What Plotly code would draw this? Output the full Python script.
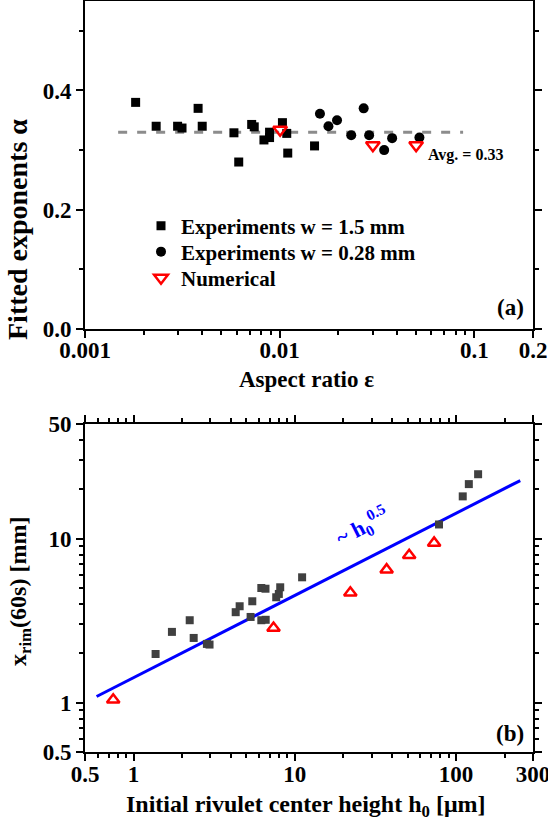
import plotly.graph_objects as go
import numpy as np

# ---------------- Panel (a) data ----------------
sq_eps = [0.00182, 0.00232, 0.00299, 0.00315, 0.00381, 0.0040, 0.00582, 0.00616,
          0.00718, 0.00740, 0.0083, 0.00887, 0.00887, 0.01033, 0.01087, 0.0110, 0.0151]
sq_alpha = [0.380, 0.340, 0.340, 0.337, 0.370, 0.340, 0.329, 0.280,
            0.343, 0.339, 0.317, 0.330, 0.321, 0.346, 0.328, 0.295, 0.307]

ci_eps = [0.0161, 0.0178, 0.0197, 0.0233, 0.0270, 0.0288, 0.0344, 0.0378, 0.0522]
ci_alpha = [0.361, 0.340, 0.350, 0.325, 0.370, 0.325, 0.300, 0.320, 0.321]

num_eps = [0.01005, 0.0301, 0.0502]
num_alpha = [0.334, 0.308, 0.308]

avg_eps = [0.00148, 0.0875]
avg_alpha = [0.33, 0.33]

# ---------------- Panel (b) data ----------------
exp_h0 = [1.37, 1.73, 2.23, 2.36, 2.85, 2.96, 4.30, 4.55, 5.32, 5.45, 6.20, 6.58,
          6.20, 6.60, 7.67, 7.96, 8.12, 11.1, 78.4, 110, 120, 137]
exp_x = [1.98, 2.70, 3.18, 2.48, 2.28, 2.26, 3.56, 3.87, 3.33, 4.15, 5.00, 4.95,
         3.18, 3.20, 4.39, 4.60, 5.05, 5.81, 12.2, 18.1, 21.5, 24.7]

sim_h0 = [0.748, 7.38, 22.1, 37.1, 51.2, 73.1]
sim_x = [1.04, 2.85, 4.67, 6.47, 7.91, 9.42]

fit_h0 = [0.59, 250]
fit_x = [1.09, 22.6]

FONT = "Liberation Serif"
W, H = 548, 834
xdom = [85 / W, 533 / W]
ydom_a = [1 - 329 / H, 1 - 1 / H]
ydom_b = [1 - 752 / H, 1 - 424 / H]

fig = go.Figure()

fig.add_trace(go.Scatter(x=avg_eps, y=avg_alpha, mode="lines",
                         line=dict(color="#8c8c8c", width=3, dash="9px,10px"),
                         showlegend=False, xaxis="x", yaxis="y"))
fig.add_trace(go.Scatter(x=sq_eps, y=sq_alpha, mode="markers", name="Experiments w = 1.5 mm",
                         marker=dict(symbol="square", size=9, color="black"),
                         xaxis="x", yaxis="y", legend="legend"))
fig.add_trace(go.Scatter(x=ci_eps, y=ci_alpha, mode="markers", name="Experiments w = 0.28 mm",
                         marker=dict(symbol="circle", size=10, color="black"),
                         xaxis="x", yaxis="y", legend="legend2"))
fig.add_trace(go.Scatter(x=num_eps, y=num_alpha, mode="markers", name="Numerical",
                         marker=dict(symbol="triangle-down-open", size=12, color="red",
                                     line=dict(width=2.5, color="red")),
                         xaxis="x", yaxis="y", legend="legend3"))

fig.add_trace(go.Scatter(x=fit_h0, y=fit_x, mode="lines",
                         line=dict(color="#0000ff", width=3), showlegend=False,
                         xaxis="x2", yaxis="y2"))
fig.add_trace(go.Scatter(x=exp_h0, y=exp_x, mode="markers", showlegend=False,
                         marker=dict(symbol="square", size=8, color="#404040"),
                         xaxis="x2", yaxis="y2"))
fig.add_trace(go.Scatter(x=sim_h0, y=sim_x, mode="markers", showlegend=False,
                         marker=dict(symbol="triangle-up-open", size=11, color="red",
                                     line=dict(width=2.5, color="red")),
                         xaxis="x2", yaxis="y2"))

tickfont = dict(family=FONT, size=23, color="black", weight="bold")
axis_common = dict(showline=True, linecolor="black", linewidth=2, mirror="ticks",
                   ticks="outside", tickwidth=2, ticklen=7, tickcolor="black",
                   showgrid=False, zeroline=False, tickfont=tickfont, automargin=False,
                   ticklabeloverflow="allow")

def minor_log(vals):
    return dict(ticks="outside", ticklen=4, tickwidth=1.5, tickcolor="black",
                tickvals=vals, showgrid=False)

minor_a = [k * 10.0 ** e for e in (-3, -2) for k in range(2, 10)]
minor_bx = [0.6, 0.7, 0.8, 0.9] + [k * 10.0 ** e for e in (0, 1) for k in range(2, 10)] + [200]
minor_by = [0.6, 0.7, 0.8, 0.9] + list(range(2, 10)) + [20, 30, 40]

def leg(py):
    return dict(x=141 / W, y=1 - py / H, xanchor="left", yanchor="middle",
                bgcolor="rgba(0,0,0,0)", itemwidth=30,
                font=dict(family=FONT, size=21, color="black", weight="bold"))

fig.update_layout(
    template="none",
    width=W, height=H, margin=dict(l=0, r=0, t=0, b=0, autoexpand=False),
    paper_bgcolor="white", plot_bgcolor="white",
    xaxis=dict(type="log", domain=xdom, range=[-3, np.log10(0.2)], anchor="y",
               tickvals=[0.001, 0.01, 0.1, 0.2], ticktext=["0.001", "0.01", "0.1", "0.2"],
               ticklabelstandoff=-8, minor=minor_log(minor_a), **axis_common),
    yaxis=dict(domain=ydom_a, range=[0, 0.55], anchor="x",
               tickvals=[0.0, 0.2, 0.4], ticktext=["0.0", "0.2", "0.4"],
               minor=dict(ticks="outside", ticklen=4, tickwidth=1.5, tickcolor="black",
                          tickvals=[0.1, 0.3, 0.5]), **axis_common),
    xaxis2=dict(type="log", domain=xdom, range=[np.log10(0.5), np.log10(300)], anchor="y2",
                tickvals=[0.5, 1, 10, 100, 300], ticktext=["0.5", "1", "10", "100", "300"],
                ticklabelstandoff=-7, minor=minor_log(minor_bx), **axis_common),
    yaxis2=dict(type="log", domain=ydom_b, range=[np.log10(0.5), np.log10(50)], anchor="x2",
                tickvals=[0.5, 1, 10, 50], ticktext=["0.5", "1", "10", "50"],
                minor=minor_log(minor_by), **axis_common),
    legend=leg(226), legend2=leg(252), legend3=leg(278),
    showlegend=True,
)

def ann(text, px, py, size, color="black", angle=0, xanchor="center", yanchor="middle"):
    fig.add_annotation(text=text, x=px / W, y=1 - py / H, xref="paper", yref="paper",
                       showarrow=False, textangle=angle, xanchor=xanchor, yanchor=yanchor,
                       font=dict(family=FONT, size=size, color=color, weight="bold"))

ann("Fitted exponents α", 17, 230, 28, angle=-90)
ann("Aspect ratio ε", 306, 379, 23)
ann("Avg. = 0.33", 426, 155, 16, xanchor="left")
ann("(a)", 526, 308, 23, xanchor="right")
ann("x<sub>rim</sub>(60s) [mm]", 20, 592, 24, angle=-90)
ann("Initial rivulet center height h<sub>0</sub> [μm]", 306, 806, 24)
ann("(b)", 526, 733, 23, xanchor="right")
ann("~ h<sub>0</sub><sup>0.5</sup>", 362, 526, 22, color="#0000ff", angle=-27)

fig.write_html("out.html")
